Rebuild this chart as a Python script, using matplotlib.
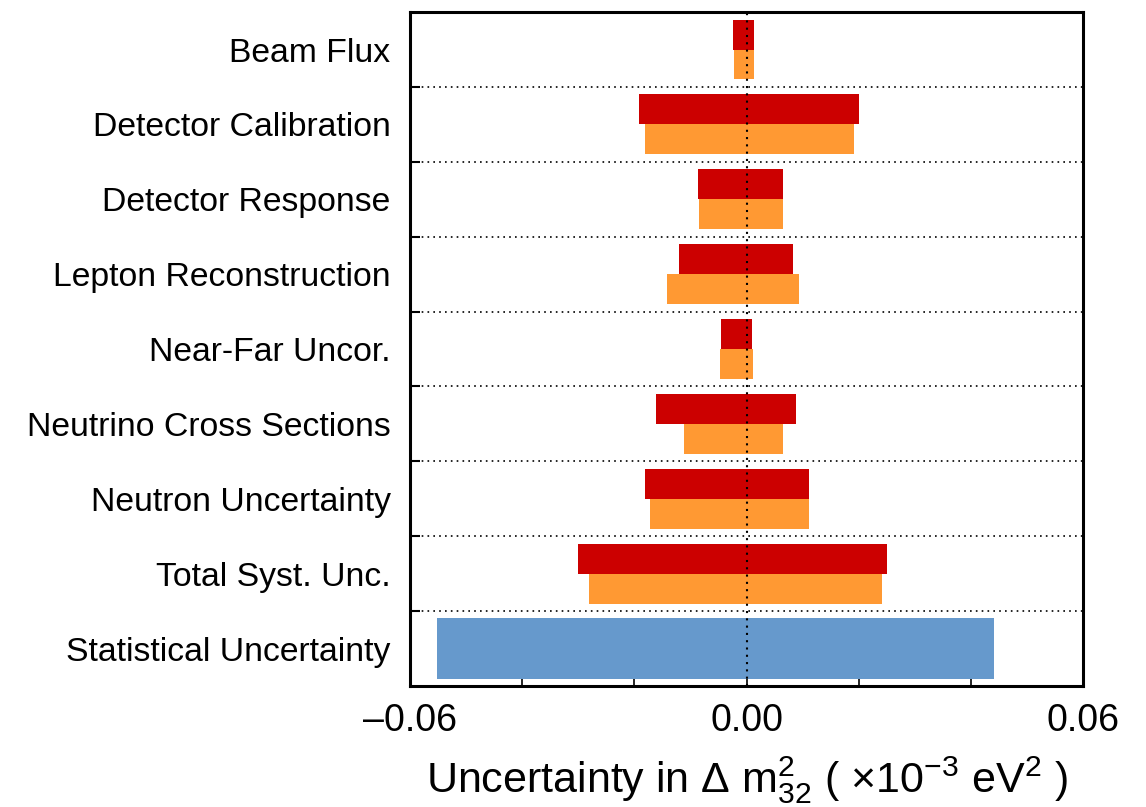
import matplotlib
matplotlib.use("Agg")
import matplotlib.pyplot as plt
import numpy as np

plt.rcParams['font.family'] = ['Liberation Sans', 'DejaVu Sans']
plt.rcParams['mathtext.fontset'] = 'custom'
plt.rcParams['mathtext.rm'] = 'Liberation Sans'
plt.rcParams['mathtext.it'] = 'Liberation Sans:italic'

categories = ["Beam Flux", "Detector Calibration", "Detector Response",
              "Lepton Reconstruction", "Near-Far Uncor.", "Neutrino Cross Sections",
              "Neutron Uncertainty", "Total Syst. Unc.", "Statistical Uncertainty"]

# upper (red) bars: lower and upper shifts
red_low = [-0.0025, -0.0191, -0.0087, -0.0121, -0.0046, -0.0161, -0.0181, -0.0301]
red_high = [0.0013, 0.0201, 0.0065, 0.0083, 0.0010, 0.0088, 0.0111, 0.0251]
# lower (orange) bars
orange_low = [-0.0023, -0.0181, -0.0085, -0.0141, -0.0048, -0.0111, -0.0172, -0.0281]
orange_high = [0.0013, 0.0192, 0.0065, 0.0093, 0.0011, 0.0065, 0.0111, 0.0242]
# statistical
stat_low = -0.0552
stat_high = 0.0441

x_ticks = [-0.06, -0.04, -0.02, 0.0, 0.02, 0.04, 0.06]
x_ticklabels = ["\u20130.06", "", "", "0.00", "", "", "0.06"]

RED = "#CC0000"
ORANGE = "#FF9933"
BLUE = "#6699CC"

fig = plt.figure(figsize=(11.46, 8.07), dpi=100)
ax = fig.add_axes([0.3578, 0.150, 0.5873, 0.835])

n_sys = len(red_low)
ys = np.arange(len(categories))
for i in range(n_sys):
    ax.barh(ys[i] - 0.2, red_high[i] - red_low[i], left=red_low[i], height=0.4,
            color=RED, edgecolor='none', zorder=2)
    ax.barh(ys[i] + 0.2, orange_high[i] - orange_low[i], left=orange_low[i], height=0.4,
            color=ORANGE, edgecolor='none', zorder=2)
ax.barh(ys[-1], stat_high - stat_low, left=stat_low, height=0.82,
        color=BLUE, edgecolor='none', zorder=2)

ax.set_xlim(-0.06, 0.06)
ax.set_ylim(len(categories) - 0.5, -0.5)

# boundaries
bounds = ys[:-1] + 0.5
for b in bounds:
    ax.axhline(b, color='black', linestyle=(0, (1, 2.5)), linewidth=1.2, zorder=1)
ax.axvline(0, color='black', linestyle=(0, (1, 2.5)), linewidth=1.5, zorder=3)

ax.set_yticks(bounds)
ax.set_yticklabels([])
ax.set_yticks(ys, minor=True)
ax.set_yticklabels(categories, minor=True)
ax.tick_params(axis='y', which='major', direction='in', length=7, width=1.5)
ax.tick_params(axis='y', which='minor', length=0, pad=14, labelsize=24.3)

ax.set_xticks(x_ticks)
ax.set_xticklabels(x_ticklabels)
ax.tick_params(axis='x', which='major', direction='in', length=6, width=1.2,
               labelsize=27, pad=12)

for s in ax.spines.values():
    s.set_linewidth(2.2)

ax.set_xlabel(r'Uncertainty in $\Delta$ m$^{2}_{32}$ ( $\times$10$^{-3}$ eV$^{2}$ )',
              fontsize=31, labelpad=11)

fig.savefig("out.png", dpi=100)
